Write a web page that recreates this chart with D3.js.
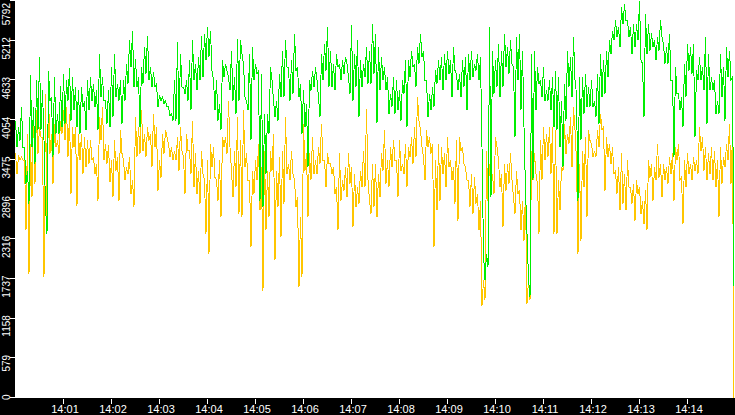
<!DOCTYPE html>
<html><head><meta charset="utf-8">
<script src="https://cdn.jsdelivr.net/npm/d3@7"></script>
<style>html,body{margin:0;padding:0;background:#000;overflow:hidden}</style>
</head><body><svg id="c" width="735" height="415"></svg>
<script>
const yTickValues = [0,579,1158,1737,2316,2896,3475,4054,4633,5212,5792];
const xTickLabels = ["14:01","14:02","14:03","14:04","14:05","14:06","14:07","14:08","14:09","14:10","14:11","14:12","14:13","14:14"];
const startLabel = "14:00", endLabel = "14:15";
const sampleSeconds = 1.875;
const seriesColors = ["#ffc600", "#00ee00"];

const greenValues = [
4040,3650, 3940,3750, 4240,3650, 3650,3120, 3310,2830, 4700,3650, 4240,3410, 4630,3900, 4970,3900, 4480,3750,
2780,2390, 4770,4330, 4380,3510, 4670,3850, 4140,3850, 4550,3940, 4720,3990, 4630,4330, 4800,4040, 4670,4190,
4530,3940, 4480,3850, 4530,4240, 4330,3900, 4630,4190, 4670,4330, 4580,4240, 4480,3900, 5010,4380, 4670,4330,
4330,3990, 4480,3940, 4820,4090, 5010,4380, 4580,4330, 4630,3990, 4630,4330, 4870,4580, 5210,4820, 5350,4530,
4940,4530, 4670,3940, 4820,4580, 5110,4720, 5280,4630, 4820,4530, 4750,4530, 4580,4240, 4410,4330, 4380,4290,
4330,4240, 4240,4110, 4140,4040, 4630,4040, 5180,3970, 5010,4530, 4530,4430, 4630,4330, 4920,4190, 5210,4630,
4870,4480, 4970,4630, 5280,4670, 5310,4920, 5400,4970, 5350,4770, 4630,4190, 4630,4040, 4280,3900, 4920,4670,
4870,4770, 4670,4480, 5060,4330, 4670,4140, 5230,4330, 5210,5010, 4870,4380, 4330,4190, 5010,3750, 5110,4630,
4870,4720, 4770,2870, 4720,2780, 4140,3260, 4140,3850, 4820,4630, 4330,4090, 4330,4040, 4720,4380, 5060,4380,
5210,4820, 4820,4330, 4920,4430, 5310,4770, 4820,4380, 4580,3850, 4480,3940, 4280,3360, 4630,4480, 4770,4530,
4820,4630, 4380,4090, 5010,4630, 5160,4770, 5400,4530, 5060,4530, 4870,4480, 5010,4820, 4870,4630, 4920,4720,
4970,4870, 4670,4430, 5430,4330, 5010,4530, 5210,4090, 4920,4530, 4870,4670, 5110,4580, 5060,4580, 5450,4720,
5310,4000, 5110,4480, 4970,4630, 4820,4480, 4670,4140, 4430,4240, 4670,4140, 4630,4190, 4480,4040, 4630,4430,
4920,3940, 4920,4670, 5060,4820, 4870,4530, 5110,4870, 5310,4970, 5060,4630, 4630,4090, 4430,4190, 4530,4240,
4770,4580, 4920,4630, 4970,4480, 5010,4630, 5060,4720, 4920,4380, 5110,4770, 4720,4480, 4720,4380, 4920,4530,
4970,4190, 5010,4630, 5060,4670, 4870,4770, 5010,4630, 4970,3650, 2100,1710, 2100,1900, 5400,2920, 5060,4430,
4920,4530, 5160,4380, 5060,4530, 5310,4820, 5110,4720, 5210,4870, 4820,3800, 5260,4630, 5310,4190, 5060,3940,
3020,2390, 1730,1460, 5010,3170, 5060,4190, 4820,4580, 4630,4380, 4820,4330, 4480,4330, 4630,4190, 4670,3940,
4770,3900, 4670,3650, 4330,3360, 4580,4040, 5060,4530, 4970,4380, 5260,4630, 4430,2870, 4670,3750, 4670,4140,
4720,4240, 4530,4240, 4630,4240, 4330,4090, 4720,3990, 5010,4380, 4920,4430, 5060,4670, 5210,5010, 5350,5210,
5500,5260, 5400,5110, 5700,5450, 5740,5500, 5500,5260, 5400,5010, 5450,5110, 5450,5210, 5790,4920, 4870,4090,
5600,5010, 5450,5060, 5310,5110, 5210,4920, 5260,5060, 5500,5260, 5160,4870, 5110,4870, 5310,4630, 4630,3510,
4820,4430, 4430,4190, 4380,3940, 4870,4380, 5160,4770, 5110,4720, 5160,3800, 4770,4630, 4970,4630, 4820,4480,
5260,3990, 5010,4480, 4670,4480, 4630,4140, 4330,4140, 5010,4380, 4820,4040, 5110,4670, 5060,4630, 4670,1630
];

const orangeValues = [
3560,3260, 3530,3460, 3510,3460, 3460,2440, 3850,1800, 3700,2920, 4190,3120, 4190,3560, 3940,3800, 3800,1760,
4430,2390, 4430,3560, 3850,3120, 3990,3650, 3750,3560, 4040,3850, 4190,3750, 4240,3510, 4140,2970, 3940,3650,
3940,2800, 3850,3460, 3850,3260, 3800,3360, 3750,3410, 3750,3460, 3510,3260, 3410,2870, 4090,3750, 4240,3460,
3700,3410, 3680,3140, 3460,2920, 3750,3310, 3510,2870, 3900,3560, 3460,3170, 3360,3260, 3510,2970, 3170,2780,
4090,3510, 3940,3560, 4190,3600, 3850,3510, 3940,3750, 3850,3360, 4140,3650, 3940,3020, 3460,3210, 3850,3560,
3900,3800, 3700,3510, 3650,3460, 3600,3460, 3800,3310, 3940,3600, 3510,2970, 3850,3600, 3600,3260, 4040,3070,
3560,2970, 3310,2830, 3600,3260, 3170,2390, 3460,2100, 3700,3360, 3650,3210, 3170,2870, 3460,2630, 3800,3650,
3800,3560, 4330,3650, 3310,2920, 3600,3070, 4090,2680, 3750,2630, 4190,3360, 3560,3170, 3170,2190, 3310,2970,
3460,3170, 3700,2730, 3360,1560, 3600,2440, 3310,2630, 3600,3310, 3850,2000, 3310,2780, 3510,2340, 3600,2830,
4090,3260, 3410,3170, 3600,3260, 3170,2780, 2920,1610, 2630,1760, 3990,3310, 3560,2630, 3560,3170, 3800,3260,
3460,3260, 3650,3410, 3990,3460, 3460,3070, 3560,3410, 3410,3260, 3360,2970, 3070,2440, 3560,2870, 3170,3020,
3360,2920, 3560,3120, 3360,2490, 3260,2780, 3070,2830, 3310,3070, 3600,3070, 4210,3170, 2870,2680, 3410,2780,
3410,2630, 3260,2920, 3560,3310, 3900,3120, 3460,3070, 3650,3360, 3750,3460, 3460,2920, 3750,3310, 3410,3260,
3700,3070, 3650,3510, 3800,3410, 3940,3510, 4380,4040, 3900,3650, 3510,3170, 3900,3650, 3800,3560, 3700,2190,
3460,2730, 3700,2870, 3650,3260, 3560,3070, 3800,3360, 3460,3170, 3360,2830, 3750,2580, 3800,3600, 3650,3410,
3360,3170, 3170,2780, 3260,2680, 3210,2830, 2970,2440, 2870,1340, 1710,1420, 3600,2870, 3410,2970, 3260,2970,
3800,3650, 3460,3070, 3260,2490, 3410,3020, 3410,3120, 3560,3170, 2920,2680, 3310,2970, 3020,2440, 2870,2290,
3020,1370, 1710,1420, 3600,3170, 3560,3260, 3120,2390, 3750,3170, 3940,3460, 3850,3510, 3940,3260, 3940,2390,
3900,2390, 3170,2730, 3360,3310, 3990,3550, 3850,3700, 4090,3360, 4240,3900, 3460,2100, 3410,2290, 3600,3070,
3800,2630, 3900,3750, 3700,3510, 3600,3510, 3900,3650, 4140,3900, 3940,3020, 3800,3510, 3700,3410, 3650,3260,
3310,2970, 3360,2730, 3560,2830, 3260,2730, 3460,3070, 3070,2830, 3120,2580, 3170,2970, 3070,2680, 2870,2530,
3020,2440, 3460,3210, 3410,2870, 3360,3170, 3700,3210, 3410,2920, 3410,3170, 3360,3120, 3510,3260, 3560,2870,
3650,3460, 3700,3170, 3210,2530, 3460,3070, 3560,3260, 3410,3170, 3510,3310, 3460,3260, 3940,3600, 3800,3310,
3650,3170, 3560,3260, 3650,3170, 3600,3070, 3460,2630, 3650,3120, 3510,3360, 3700,3460, 3990,3120, 3850,0
];

const W = 735, H = 415, left = 15, bottom = 398;
const parse = d3.timeParse("%H:%M");
const t0 = parse(startLabel), t1 = parse(endLabel);
const x = d3.scaleTime().domain([t0, t1]).range([left + 0.5, W + 0.5]);
const y = d3.scaleLinear().domain([0, yTickValues[yTickValues.length - 1]]).range([bottom - 0.5, 0.5]);
const timeAt = i => new Date(t0.getTime() + i * sampleSeconds * 1000);

const svg = d3.select("#c");
svg.append("rect").attr("width", W).attr("height", H).attr("fill", "#000");
svg.append("rect").attr("x", left).attr("y", 0).attr("width", W - left).attr("height", bottom).attr("fill", "#fff");
svg.append("clipPath").attr("id", "clip").append("rect").attr("x", left).attr("y", 0).attr("width", W - left).attr("height", bottom);

const line = d3.line().x((d, i) => x(timeAt(i))).y(d => y(d));
const plot = svg.append("g").attr("clip-path", "url(#clip)");
[orangeValues, greenValues].forEach((vals, k) => {
  plot.append("path").datum(vals).attr("d", line)
    .attr("fill", "none").attr("stroke", seriesColors[k]).attr("stroke-width", 1)
    .attr("shape-rendering", "crispEdges");
});

const yAxis = d3.axisLeft(y).tickValues(yTickValues).tickSize(5).tickFormat(d3.format("d"));
if (yAxis.offset) yAxis.offset(0);
const gy = svg.append("g").attr("transform", `translate(${left},0)`).call(yAxis);
gy.select(".domain").remove();
gy.attr("font-family", "'Liberation Sans', Arial, sans-serif").attr("font-size", 10);
gy.selectAll("line").attr("stroke", "#fff").attr("shape-rendering", "crispEdges");
gy.selectAll("text").attr("x", 0).attr("dy", 0).attr("fill", "#fff").attr("text-anchor", "end")
  .attr("transform", d => `translate(-5,${Math.max(-3, 3 - y(d))}) rotate(-90)`);

const xAxis = d3.axisBottom(x).tickValues(xTickLabels.map(parse)).tickSize(5).tickFormat((d, i) => xTickLabels[i]);
if (xAxis.offset) xAxis.offset(0);
const gx = svg.append("g").attr("transform", `translate(0,${bottom + 1})`).call(xAxis);
gx.select(".domain").remove();
gx.attr("font-family", "'Liberation Sans', Arial, sans-serif").attr("font-size", 11);
gx.selectAll("line").attr("stroke", "#fff").attr("shape-rendering", "crispEdges");
gx.selectAll("text").attr("y", 14).attr("dy", 0).attr("dx", 1.5).attr("fill", "#fff");
</script></body></html>
